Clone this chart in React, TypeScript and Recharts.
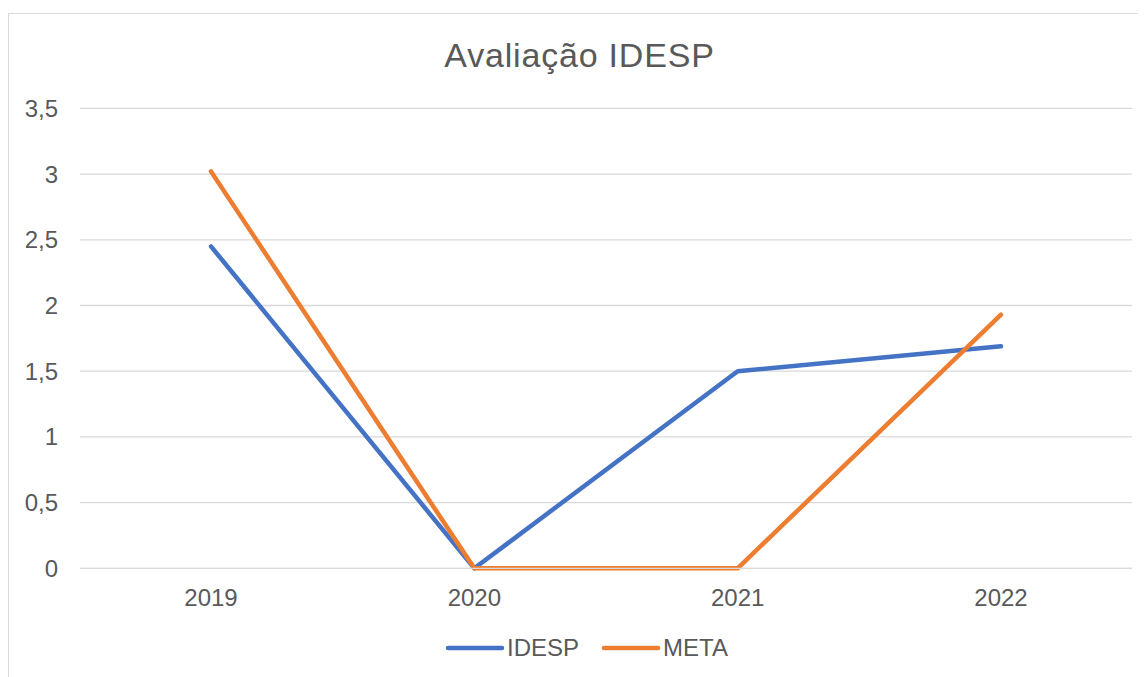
import { LineChart, Line, XAxis, YAxis, CartesianGrid } from "recharts";

// ── data ──────────────────────────────────────────────────────────────
const YEARS = ["2019", "2020", "2021", "2022"];
const IDESP = [2.45, 0, 1.5, 1.69];
const META = [3.02, 0, 0, 1.93];
const Y_TICKS = [0, 0.5, 1, 1.5, 2, 2.5, 3, 3.5];

const TEXT = "#595959";
const GRID = "#d9d9d9";
const BLUE = "#4472c4";
const ORANGE = "#ed7d31";
const FONT = '"Liberation Sans", Arial, sans-serif';

const data = YEARS.map((year, i) => ({ year, IDESP: IDESP[i], META: META[i] }));

const fmt = (v: number) => String(v).replace(".", ",");

function LegendItem({ color, label }: { color: string; label: string }) {
    return (
        <div style={{ display: "flex", alignItems: "center" }}>
            <svg width={60} height={10} style={{ display: "block" }}>
                <line x1={3} y1={5} x2={57} y2={5} stroke={color} strokeWidth={4.5} strokeLinecap="round" />
            </svg>
            <span style={{ marginLeft: 2 }}>{label}</span>
        </div>
    );
}

export default function App() {
    return (
        <div
            style={{
                position: "relative",
                width: 1138,
                height: 669,
                overflow: "hidden",
                background: "#fff",
                fontFamily: FONT,
                color: TEXT,
            }}
        >
            {/* chart frame (cropped on the right and bottom) */}
            <div
                style={{
                    position: "absolute",
                    left: 0,
                    top: 5,
                    width: 1300,
                    height: 900,
                    border: `1.5px solid ${GRID}`,
                }}
            />
            <div
                style={{
                    position: "absolute",
                    left: 0,
                    top: 30,
                    width: 1143,
                    textAlign: "center",
                    fontSize: 34,
                    lineHeight: "34px",
                    letterSpacing: 0.8,
                }}
            >
                Avaliação IDESP
            </div>
            <div style={{ position: "absolute", left: 0, top: 0 }}>
                <LineChart
                    width={1138}
                    height={669}
                    data={data}
                    margin={{ top: 100.4, right: 14, bottom: 78.7, left: 0 }}
                >
                    <CartesianGrid vertical={false} stroke={GRID} strokeWidth={1.3} />
                    <XAxis
                        dataKey="year"
                        height={30}
                        padding={{ left: 131, right: 131 }}
                        axisLine={{ stroke: GRID, strokeWidth: 1.3 }}
                        tickLine={false}
                        tickSize={0}
                        tickMargin={21}
                        tick={{ fill: TEXT, fontSize: 24, fontFamily: FONT }}
                    />
                    <YAxis
                        width={72}
                        domain={[0, 3.5]}
                        ticks={Y_TICKS}
                        tickFormatter={fmt}
                        axisLine={false}
                        tickLine={false}
                        tickSize={0}
                        tickMargin={22}
                        tick={{ fill: TEXT, fontSize: 24, fontFamily: FONT }}
                    />
                    <Line
                        type="linear"
                        dataKey="IDESP"
                        stroke={BLUE}
                        strokeWidth={4.5}
                        strokeLinecap="round"
                        strokeLinejoin="round"
                        dot={false}
                        activeDot={false}
                        isAnimationActive={false}
                    />
                    <Line
                        type="linear"
                        dataKey="META"
                        stroke={ORANGE}
                        strokeWidth={4.5}
                        strokeLinecap="round"
                        strokeLinejoin="round"
                        dot={false}
                        activeDot={false}
                        isAnimationActive={false}
                    />
                </LineChart>
            </div>
            {/* legend */}
            <div
                style={{
                    position: "absolute",
                    left: 437,
                    top: 626,
                    display: "flex",
                    gap: 22,
                    fontSize: 24,
                    lineHeight: "28px",
                }}
            >
                <LegendItem color={BLUE} label="IDESP" />
                <LegendItem color={ORANGE} label="META" />
            </div>
        </div>
    );
}
